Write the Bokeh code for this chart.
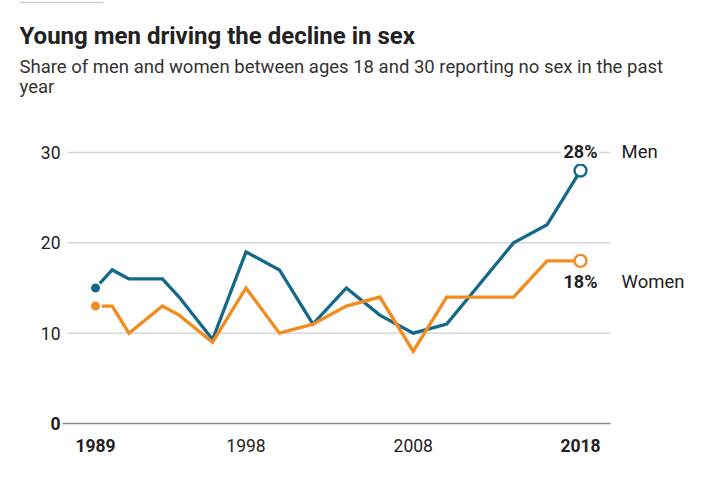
from bokeh.plotting import figure
from bokeh.models import Range1d, ColumnDataSource
from bokeh.core.properties import value
from bokeh.embed import file_html
from bokeh.resources import INLINE

# ---- data ----
years = [1989, 1990, 1991, 1993, 1994, 1996, 1998, 2000, 2002, 2004, 2006, 2008, 2010, 2012, 2014, 2016, 2018]
men = [15, 17, 16, 16, 14, 9.3, 19, 17, 11, 15, 12, 10, 11, 15.5, 20, 22, 28]
women = [13, 13, 10, 13, 12, 9, 15, 10, 11, 13, 14, 8, 14, 14, 14, 18, 18]
y_ticks = [0, 10, 20, 30]
y_tick_labels = ["0", "10", "20", "30"]
x_ticks = [1989, 1998, 2008, 2018]
x_tick_labels = ["1989", "1998", "2008", "2018"]
series_names = ["Men", "Women"]

title_text = "Young men driving the decline in sex"
subtitle_lines = ["Share of men and women between ages 18 and 30 reporting no sex in the past", "year"]

MEN_C = "#12698a"
WOMEN_C = "#f28c1f"
W, H = 713, 480

# pixel geometry of the plotting area
px_per_year = (580 - 95) / (2018 - 1989)
px_per_unit = (423 - 152) / 30.0
x0 = 1989 - 95 / px_per_year
x1 = x0 + W / px_per_year
ytop = 423 / px_per_unit
ybot = -(H - 423) / px_per_unit

def X(px):
    return x0 + px / px_per_year

def Y(py):
    return ytop - py / px_per_unit

p = figure(width=W, height=H, output_backend="svg", toolbar_location=None,
           x_range=Range1d(x0, x1), y_range=Range1d(ybot, ytop),
           min_border=0, min_border_left=0, min_border_right=0,
           min_border_top=0, min_border_bottom=0)
p.axis.visible = False
p.grid.visible = False
p.outline_line_color = None
p.background_fill_color = "white"
p.border_fill_color = "white"

FONT = "Roboto"

# decorative rule at top
p.segment(x0=[X(20)], y0=[Y(2)], x1=[X(103)], y1=[Y(2)], line_color="#cccccc", line_width=1.5)

# title + subtitle
p.text(x=[X(19)], y=[Y(35)], text=[title_text], text_font=value(FONT), text_font_style="bold",
       text_font_size="24px", text_color="#222222", text_baseline="middle", text_align="left")
p.text(x=[X(19)] * 2, y=[Y(66), Y(86)], text=subtitle_lines, text_font=value(FONT),
       text_font_size="18.5px", text_color="#333333", text_baseline="middle", text_align="left")

# gridlines
grid_vals = [t for t in y_ticks if t != 0]
p.segment(x0=[X(67)] * len(grid_vals), y0=grid_vals, x1=[X(610)] * len(grid_vals), y1=grid_vals,
          line_color="#d6d6d6", line_width=1.5)
p.segment(x0=[X(62)], y0=[0], x1=[X(610)], y1=[0], line_color="#8c8c8c", line_width=1.5)

# y tick labels
yl = ColumnDataSource(dict(x=[X(60)] * len(y_ticks), y=y_ticks, t=y_tick_labels,
                           s=["bold" if t == 0 else "normal" for t in y_ticks]))
p.text(x="x", y="y", text="t", source=yl, text_font=value(FONT), text_font_style="s",
       text_font_size="17.5px", text_color="#222222", text_align="right", text_baseline="middle")

# x tick labels
xl = ColumnDataSource(dict(x=x_ticks, y=[Y(445)] * len(x_ticks), t=x_tick_labels,
                           s=["bold" if t in (1989, 2018) else "normal" for t in x_ticks]))
p.text(x="x", y="y", text="t", source=xl, text_font=value(FONT), text_font_style="s",
       text_font_size="17.5px", text_color="#222222", text_align="center", text_baseline="middle")

# lines (1989 point shown as a separate dot)
p.line(years, men, line_color=MEN_C, line_width=3.3, line_join="miter")
p.line(years, women, line_color=WOMEN_C, line_width=3.3, line_join="miter")

# start dots
p.scatter([years[0]], [men[0]], size=11, fill_color=MEN_C, line_color="white", line_width=2)
p.scatter([years[0]], [women[0]], size=11, fill_color=WOMEN_C, line_color="white", line_width=2)

# end open circles
p.scatter([years[-1]], [men[-1]], size=12, fill_color="white", line_color=MEN_C, line_width=2.4)
p.scatter([years[-1]], [women[-1]], size=12, fill_color="white", line_color=WOMEN_C, line_width=2.4)

# end labels
p.text(x=[years[-1]], y=[men[-1]], text=[f"{men[-1]:.0f}%"], y_offset=-19, text_font=value(FONT),
       text_font_style="bold", text_font_size="18px", text_color="#222222", text_align="center",
       text_baseline="middle", background_fill_color="white", padding=2)
p.text(x=[years[-1]], y=[women[-1]], text=[f"{women[-1]:.0f}%"], y_offset=21, text_font=value(FONT),
       text_font_style="bold", text_font_size="18px", text_color="#222222", text_align="center",
       text_baseline="middle")
p.text(x=[years[-1]] * 2, y=[men[-1], women[-1]], text=series_names, x_offset=41, y_offset=[-19, 21],
       text_font=value(FONT), text_font_size="18.5px", text_color="#222222", text_align="left",
       text_baseline="middle")

open("out.html", "w").write(file_html(p, INLINE))
